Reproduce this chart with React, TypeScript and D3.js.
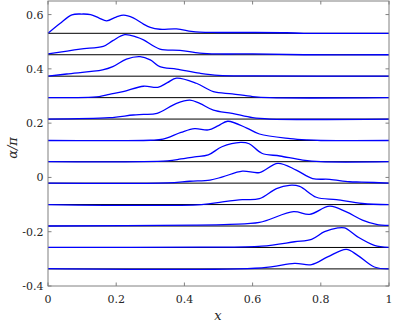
import React, { useRef, useEffect } from "react";
import * as d3 from "d3";

// baseline of each row (alpha/pi)
const baselines = [0.531, 0.452, 0.373, 0.294, 0.215, 0.136, 0.058, -0.021, -0.1, -0.179, -0.258, -0.337];

// each row: [x, offset above its baseline]
const row1 = [[0, 0], [0.035, 0.036], [0.07, 0.068], [0.1, 0.071], [0.125, 0.069], [0.15, 0.056], [0.172, 0.046], [0.2, 0.06], [0.222, 0.067], [0.25, 0.057], [0.28, 0.034], [0.3, 0.022], [0.328, 0.015], [0.377, 0.016], [0.42, 0.007], [0.445, 0.004], [0.5, 0.003], [0.6, 0.003], [0.7, 0.002], [0.75, 0], [1, 0]];
const row2 = [[0, 0.003], [0.094, 0.021], [0.162, 0.031], [0.19, 0.052], [0.225, 0.074], [0.26, 0.065], [0.28, 0.055], [0.328, 0.021], [0.387, 0.016], [0.445, 0.006], [0.5, 0.003], [0.6, 0.003], [0.75, 0], [1, 0]];
const row3 = [[0, 0], [0.055, 0.008], [0.16, 0.023], [0.19, 0.035], [0.23, 0.063], [0.27, 0.072], [0.3, 0.06], [0.328, 0.035], [0.377, 0.026], [0.445, 0.011], [0.5, 0.003], [0.6, 0.001], [1, 0]];
const row4 = [[0, 0], [0.15, 0.004], [0.18, 0.012], [0.22, 0.022], [0.28, 0.042], [0.322, 0.038], [0.35, 0.055], [0.377, 0.072], [0.435, 0.053], [0.485, 0.022], [0.54, 0.014], [0.6, 0.004], [0.65, 0], [1, 0]];
const row5 = [[0, 0], [0.18, 0.005], [0.25, 0.015], [0.28, 0.017], [0.32, 0.021], [0.377, 0.058], [0.416, 0.07], [0.445, 0.058], [0.485, 0.033], [0.54, 0.021], [0.6, 0.005], [0.65, 0], [1, 0]];
const row6 = [[0, 0], [0.3, 0.001], [0.337, 0.005], [0.39, 0.03], [0.43, 0.044], [0.47, 0.039], [0.5, 0.055], [0.527, 0.071], [0.583, 0.046], [0.62, 0.024], [0.71, 0.007], [0.76, 0.002], [0.8, 0], [1, 0]];
const row7 = [[0, 0], [0.35, 0.003], [0.39, 0.01], [0.43, 0.018], [0.47, 0.025], [0.51, 0.055], [0.565, 0.071], [0.59, 0.066], [0.627, 0.031], [0.68, 0.021], [0.747, 0.006], [0.8, 0], [1, 0]];
const row8 = [[0, 0], [0.35, 0.001], [0.416, 0.007], [0.475, 0.011], [0.512, 0.023], [0.57, 0.044], [0.62, 0.039], [0.674, 0.073], [0.728, 0.048], [0.776, 0.017], [0.826, 0.014], [0.884, 0.005], [0.92, 0.004], [1, 0]];
const row9 = [[0, 0], [0.45, 0], [0.512, 0.01], [0.57, 0.018], [0.62, 0.022], [0.67, 0.059], [0.708, 0.071], [0.738, 0.067], [0.787, 0.027], [0.846, 0.018], [0.922, 0.004], [1, 0]];
const row10 = [[0, 0], [0.43, 0.003], [0.533, 0.006], [0.62, 0.013], [0.72, 0.053], [0.767, 0.043], [0.826, 0.073], [0.875, 0.052], [0.922, 0.022], [0.963, 0.006], [1, 0.002]];
const row11 = [[0, 0], [0.45, 0.001], [0.627, 0.005], [0.723, 0.021], [0.773, 0.03], [0.811, 0.058], [0.85, 0.072], [0.87, 0.072], [0.908, 0.039], [0.957, 0.008], [1, 0]];
const row12 = [[0, 0.001], [0.627, 0.004], [0.723, 0.02], [0.773, 0.016], [0.82, 0.044], [0.875, 0.072], [0.908, 0.05], [0.957, 0.007], [1, 0]];
const rows = [row1, row2, row3, row4, row5, row6, row7, row8, row9, row10, row11, row12];

const xTicks = [0, 0.2, 0.4, 0.6, 0.8, 1];
const yTicks = [-0.4, -0.2, 0, 0.2, 0.4, 0.6];

const App = () => {
  const ref = useRef(null);

  useEffect(() => {
    const svg = d3.select(ref.current);
    svg.selectAll("*").remove();

    const left = 48, right = 389, top = 1, bottom = 286;
    const x = d3.scaleLinear().domain([0, 1]).range([left, right]);
    const y = d3.scaleLinear().domain([-0.4, 0.65]).range([bottom, top]);
    const font = "'DejaVu Serif', serif";
    const axisColor = "#808080";
    const tl = 3.5;

    // baselines
    svg.append("g")
      .selectAll("line")
      .data(baselines)
      .join("line")
      .attr("x1", x(0))
      .attr("x2", x(1))
      .attr("y1", (d) => y(d))
      .attr("y2", (d) => y(d))
      .attr("stroke", "#000")
      .attr("stroke-width", 1);

    // curves
    const curve = d3.line()
      .x((d) => x(d[0]))
      .y((d) => y(d[1]))
      .curve(d3.curveCatmullRom.alpha(0.5));

    rows.forEach((r, i) => {
      svg.append("path")
        .datum(r.map((p) => [p[0], baselines[i] + p[1]]))
        .attr("d", curve)
        .attr("fill", "none")
        .attr("stroke", "#0000ff")
        .attr("stroke-width", 1.3);
    });

    // box
    svg.append("rect")
      .attr("x", left)
      .attr("y", top)
      .attr("width", right - left)
      .attr("height", bottom - top)
      .attr("fill", "none")
      .attr("stroke", axisColor)
      .attr("stroke-width", 1);

    const ticks = svg.append("g").attr("stroke", axisColor).attr("stroke-width", 1);
    xTicks.forEach((t) => {
      ticks.append("line").attr("x1", x(t)).attr("x2", x(t)).attr("y1", bottom).attr("y2", bottom - tl);
      ticks.append("line").attr("x1", x(t)).attr("x2", x(t)).attr("y1", top).attr("y2", top + tl);
    });
    yTicks.forEach((t) => {
      ticks.append("line").attr("x1", left).attr("x2", left + tl).attr("y1", y(t)).attr("y2", y(t));
      ticks.append("line").attr("x1", right).attr("x2", right - tl).attr("y1", y(t)).attr("y2", y(t));
    });

    svg.append("g")
      .selectAll("text")
      .data(xTicks)
      .join("text")
      .attr("x", (d) => x(d))
      .attr("y", 302.5)
      .attr("text-anchor", "middle")
      .style("font-family", font)
      .style("font-size", "11px")
      .attr("fill", "#262626")
      .text((d) => String(d));

    svg.append("g")
      .selectAll("text")
      .data(yTicks)
      .join("text")
      .attr("x", 43.5)
      .attr("y", (d) => y(d) + 4)
      .attr("text-anchor", "end")
      .style("font-family", font)
      .style("font-size", "11px")
      .attr("fill", "#262626")
      .text((d) => (d < 0 ? "-" + Math.abs(d) : String(d)));

    svg.append("text")
      .attr("x", 218)
      .attr("y", 320)
      .attr("text-anchor", "middle")
      .style("font-family", font)
      .style("font-style", "italic")
      .style("font-size", "13px")
      .attr("fill", "#262626")
      .text("x");

    svg.append("text")
      .attr("transform", "translate(17,148) rotate(-90)")
      .attr("text-anchor", "middle")
      .style("font-family", font)
      .style("font-style", "italic")
      .style("font-size", "13px")
      .attr("fill", "#262626")
      .text("α/π");
  }, []);

  return (
    <svg
      ref={ref}
      width={395}
      height={324}
      style={{ position: "absolute", left: 0, top: 0, background: "#fff" }}
    />
  );
};

export default App;
